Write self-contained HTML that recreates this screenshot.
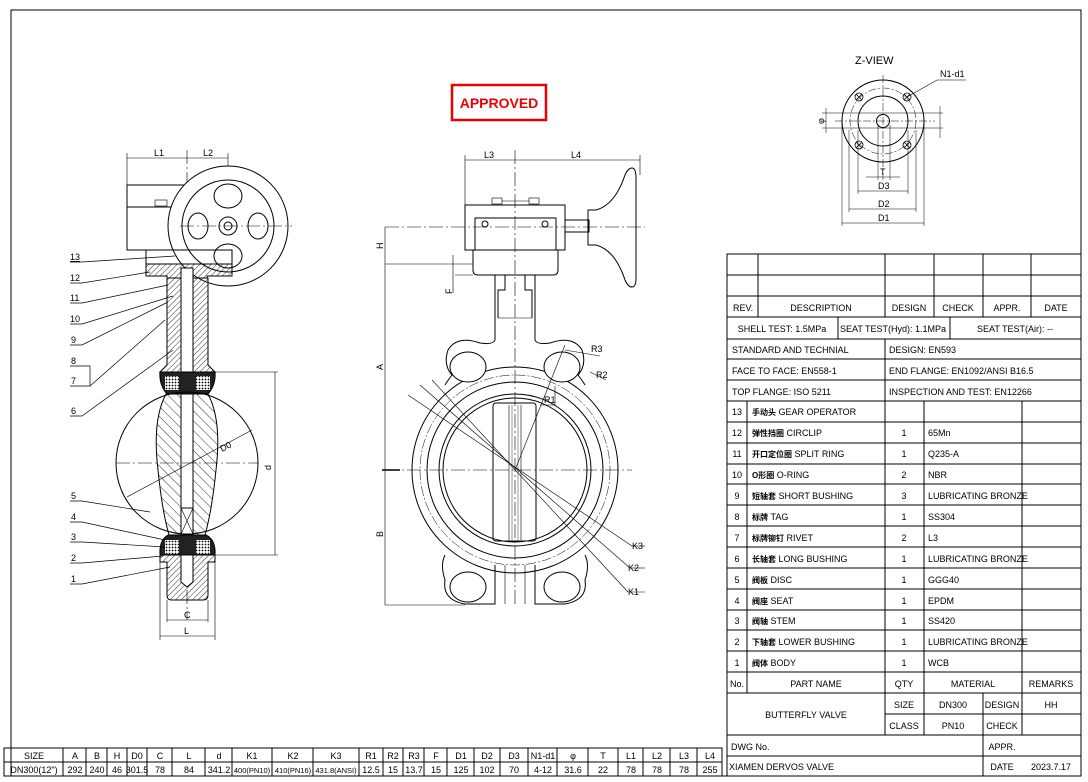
<!DOCTYPE html>
<html><head><meta charset="utf-8"><style>
body{margin:0;background:#fff}
svg{display:block}
text{font-family:"Liberation Sans","Noto Sans CJK SC",sans-serif;font-size:9px;fill:#000}
</style></head><body>
<svg width="1088" height="782" viewBox="0 0 1088 782" xmlns="http://www.w3.org/2000/svg">
<defs>
<pattern id="h" width="4" height="4" patternUnits="userSpaceOnUse" patternTransform="rotate(45)"><line x1="0" y1="0" x2="0" y2="4" stroke="#000" stroke-width="0.8"/></pattern>
<pattern id="h2" width="7" height="7" patternUnits="userSpaceOnUse" patternTransform="rotate(-45)"><line x1="0" y1="0" x2="0" y2="7" stroke="#000" stroke-width="0.8"/></pattern>
<pattern id="dots" width="3" height="3" patternUnits="userSpaceOnUse"><rect width="3" height="3" fill="#fff"/><circle cx="1.5" cy="1.5" r="0.9" fill="#000"/></pattern>
</defs>
<rect x="11" y="10" width="1070" height="766" fill="none" stroke="#000" stroke-width="1"/>

<rect x="452" y="85" width="94" height="35" fill="none" stroke="#e00" stroke-width="2.5"/>
<text x="499" y="108" text-anchor="middle" style="font-size:14px;font-weight:bold;fill:#e00">APPROVED</text>

<!-- LEFT VIEW -->
<g stroke="#000" fill="none" stroke-width="1">
<line x1="127" y1="158" x2="228" y2="158" stroke-width="0.6"/>
<line x1="127" y1="153" x2="127" y2="250" stroke-width="0.6"/>
<line x1="228" y1="153" x2="228" y2="226" stroke-width="0.6"/>
<line x1="187" y1="150" x2="187" y2="620" stroke-width="0.6" stroke-dasharray="14,3,2,3"/>
<rect x="127" y="185" width="70" height="65"/>
<line x1="127" y1="207" x2="180" y2="207"/>
<rect x="155" y="200" width="12" height="6" stroke-width="0.6"/>
<circle cx="228" cy="226" r="60" fill="#fff"/>
<circle cx="228" cy="226" r="46"/>
<circle cx="228" cy="226" r="9"/><circle cx="228" cy="226" r="4"/>
<ellipse cx="228" cy="196" rx="14" ry="12"/><ellipse cx="228" cy="256" rx="14" ry="12"/>
<ellipse cx="198" cy="226" rx="10" ry="13"/><ellipse cx="258" cy="226" rx="10" ry="13"/>
<line x1="180" y1="226" x2="292" y2="226" stroke-width="0.6" stroke-dasharray="14,3,2,3"/>
<rect x="146" y="250" width="86" height="14"/>
<path d="M146 264 H232 V276 H207 V278 H167 V276 H146 Z" fill="url(#h)"/>
<path d="M167 278 V365 L160 372 H215 L208 365 V278 Z" fill="url(#h)"/>
<rect x="181" y="268" width="12" height="240" fill="#fff"/>
<path d="M160 372 H215 Q216 385 208 394 H167 Q159 385 160 372Z" fill="#222"/>
<rect x="165" y="376" width="14" height="14" fill="url(#dots)" stroke="none"/>
<rect x="196" y="376" width="14" height="14" fill="url(#dots)" stroke="none"/>
<circle cx="187" cy="463" r="71"/>
<path d="M166 394 H208 Q222 420 216 470 Q212 510 205 535 H169 Q162 510 158 470 Q152 420 166 394Z" fill="url(#h2)"/>
<rect x="181" y="394" width="12" height="140" fill="#fff"/>
<rect x="181" y="508" width="12" height="26"/>
<line x1="181" y1="508" x2="193" y2="534" stroke-width="0.6"/><line x1="193" y1="508" x2="181" y2="534" stroke-width="0.6"/>
<path d="M160 555 H215 Q216 540 206 535 H168 Q159 540 160 555Z" fill="#222"/>
<rect x="165" y="540" width="14" height="14" fill="url(#dots)" stroke="none"/>
<rect x="196" y="540" width="14" height="14" fill="url(#dots)" stroke="none"/>
<path d="M160 555 H215 V562 H208 V595 Q208 600 203 600 H171 Q167 600 167 595 V562 H160Z" fill="url(#h)"/>
<path d="M181 555 V582 L187 587 L193 582 V555Z" fill="#fff"/>
<line x1="116" y1="463" x2="258" y2="463" stroke-width="0.6" stroke-dasharray="14,3,2,3"/>
<line x1="127" y1="497" x2="252" y2="430" stroke-width="0.6"/>
<line x1="215" y1="372" x2="278" y2="372" stroke-width="0.6"/>
<line x1="215" y1="555" x2="278" y2="555" stroke-width="0.6"/>
<line x1="275" y1="372" x2="275" y2="555" stroke-width="0.6"/>
<line x1="160" y1="555" x2="160" y2="640" stroke-width="0.6"/><line x1="215" y1="555" x2="215" y2="640" stroke-width="0.6"/>
<line x1="167" y1="600" x2="167" y2="622" stroke-width="0.6"/><line x1="208" y1="600" x2="208" y2="622" stroke-width="0.6"/>
<line x1="167" y1="620" x2="208" y2="620" stroke-width="0.6"/>
<line x1="160" y1="636" x2="215" y2="636" stroke-width="0.6"/>
<g stroke-width="0.7">
<path d="M70 262 H82 L175 256"/><path d="M70 283 H82 L150 272"/><path d="M70 303 H82 L168 285"/>
<path d="M70 324 H82 L173 296"/><path d="M70 345 H82 L168 302"/>
<path d="M70 366 H90 V386 H70"/><path d="M90 386 L165 320"/>
<path d="M70 416 H82 L173 350"/><path d="M70 501 H82 L150 512"/>
<path d="M70 522 H82 L165 540"/><path d="M70 542 H82 L165 547"/>
<path d="M70 563 H82 L163 556"/><path d="M70 584 H82 L170 567"/>
</g>
</g>
<g style="font-size:10px">
<text x="154" y="156">L1</text><text x="203" y="156">L2</text>
<text x="70" y="260" style="text-decoration:underline">13</text><text x="70" y="281">12</text><text x="70" y="301">11</text>
<text x="70" y="322">10</text><text x="71" y="343">9</text><text x="71" y="364">8</text><text x="71" y="384">7</text>
<text x="71" y="414">6</text><text x="71" y="499">5</text><text x="71" y="520">4</text><text x="71" y="540">3</text>
<text x="71" y="561">2</text><text x="71" y="582">1</text>
<text x="184" y="618">C</text><text x="184" y="634">L</text>
<text x="222" y="452" transform="rotate(-28 222 452)">D0</text>
<text x="271" y="470" transform="rotate(-90 271 470)">d</text>
</g>

<!-- MIDDLE VIEW -->
<g stroke="#000" fill="none" stroke-width="1">
<line x1="465" y1="160" x2="640" y2="160" stroke-width="0.6"/>
<line x1="465" y1="155" x2="465" y2="205" stroke-width="0.6"/>
<line x1="640" y1="155" x2="640" y2="175" stroke-width="0.6"/>
<line x1="515" y1="150" x2="515" y2="605" stroke-width="0.6" stroke-dasharray="14,3,2,3"/>
<rect x="465" y="205" width="100" height="45"/>
<rect x="475" y="218" width="81" height="32"/>
<rect x="492" y="198" width="10" height="6" stroke-width="0.6"/><rect x="529" y="198" width="10" height="6" stroke-width="0.6"/>
<line x1="502" y1="201" x2="529" y2="201" stroke-width="0.6"/>
<circle cx="485" cy="224" r="3"/><circle cx="545" cy="224" r="3"/>
<rect x="565" y="220" width="24" height="12"/>
<path d="M588 210 H596 Q615 205 625 175 Q628 168 632 168 Q636 168 636 178 V278 Q636 287 632 287 Q628 287 625 280 Q615 250 596 245 H588Z"/>
<line x1="385" y1="227" x2="645" y2="227" stroke-width="0.6" stroke-dasharray="14,3,2,3"/>
<path d="M473 250 H558 V270 Q558 275 553 275 H478 Q473 275 473 270Z"/>
<line x1="385" y1="264" x2="473" y2="264" stroke-width="0.6"/>
<line x1="455" y1="275" x2="473" y2="275" stroke-width="0.6"/>
<line x1="453" y1="255" x2="453" y2="293" stroke-width="0.6"/>
<line x1="385" y1="227" x2="385" y2="605" stroke-width="0.6"/>
<line x1="382" y1="470" x2="400" y2="470" stroke-width="1.5"/>
<line x1="385" y1="605" x2="465" y2="605" stroke-width="0.6"/>
<path d="M495 275 V340 Q493 345 480 343 Q457 335 448 350 Q443 365 452 375 Q448 380 445 385"/>
<path d="M535 275 V340 Q537 345 550 343 Q573 335 582 350 Q587 365 578 375 Q582 380 585 385"/>
<path d="M505 275 V290 H498 V318"/><path d="M525 275 V290 H532 V318"/>
<line x1="498" y1="318" x2="532" y2="318" stroke-width="0.6"/>
<circle cx="515" cy="470" r="103"/>
<circle cx="515" cy="470" r="88"/>
<circle cx="515" cy="470" r="76"/>
<circle cx="515" cy="470" r="72"/>
<circle cx="515" cy="470" r="95" stroke-width="0.5" stroke-dasharray="10,2,2,2"/>
<ellipse cx="468" cy="367" rx="18" ry="15" fill="#fff"/>
<ellipse cx="562" cy="367" rx="18" ry="15" fill="#fff"/>
<ellipse cx="468" cy="587" rx="18" ry="15" fill="#fff"/>
<ellipse cx="562" cy="587" rx="18" ry="15" fill="#fff"/>
<path d="M445 555 Q440 565 445 580 Q442 600 465 604 H495 V565"/>
<path d="M585 555 Q590 565 585 580 Q588 600 565 604 H535 V565"/>
<line x1="505" y1="565" x2="505" y2="604" stroke-width="0.6"/><line x1="525" y1="565" x2="525" y2="604" stroke-width="0.6"/>
<rect x="493" y="403" width="43" height="138" rx="3"/>
<line x1="509" y1="405" x2="509" y2="540" stroke-width="0.6"/><line x1="521" y1="405" x2="521" y2="540" stroke-width="0.6"/>
<line x1="512" y1="405" x2="512" y2="540" stroke-width="0.4"/><line x1="518" y1="405" x2="518" y2="540" stroke-width="0.4"/>
<line x1="385" y1="470" x2="632" y2="470" stroke-width="0.6" stroke-dasharray="14,3,2,3"/>
<g stroke-width="0.6">
<line x1="408" y1="395" x2="632" y2="546"/>
<line x1="420" y1="385" x2="630" y2="568"/>
<line x1="432" y1="380" x2="628" y2="592"/>
<line x1="632" y1="546" x2="645" y2="546"/><line x1="630" y1="568" x2="645" y2="568"/><line x1="628" y1="592" x2="645" y2="592"/>
<line x1="515" y1="470" x2="565" y2="345"/>
<path d="M555 386 V405 H540"/>
<line x1="565" y1="350" x2="600" y2="356"/><line x1="590" y1="372" x2="606" y2="380"/>
</g>
</g>
<g style="font-size:10px">
<text x="484" y="158">L3</text><text x="571" y="158">L4</text>
<text x="383" y="249" transform="rotate(-90 383 249)">H</text>
<text x="452" y="294" transform="rotate(-90 452 294)">F</text>
<text x="383" y="370" transform="rotate(-90 383 370)">A</text>
<text x="383" y="537" transform="rotate(-90 383 537)">B</text>
<text x="591" y="352">R3</text><text x="596" y="378">R2</text><text x="544" y="403">R1</text>
<text x="632" y="549">K3</text><text x="628" y="571">K2</text><text x="628" y="595">K1</text>
</g>

<!-- Z VIEW -->
<g stroke="#000" fill="none" stroke-width="1">
<circle cx="883" cy="121" r="41"/>
<circle cx="883" cy="121" r="33" stroke-width="0.5" stroke-dasharray="8,2,2,2"/>
<circle cx="883" cy="121" r="25"/>
<circle cx="883" cy="121" r="6.5"/>
<g stroke-width="0.8">
<circle cx="859" cy="97" r="4"/><circle cx="907" cy="97" r="4"/><circle cx="859" cy="145" r="4"/><circle cx="907" cy="145" r="4"/>
<path d="M856 94 L862 100 M862 94 L856 100 M904 94 L910 100 M910 94 L904 100 M856 142 L862 148 M862 142 L856 148 M904 142 L910 148 M910 142 L904 148"/>
</g>
<line x1="835" y1="121" x2="935" y2="121" stroke-width="0.5" stroke-dasharray="8,2,2,2"/>
<line x1="883" y1="75" x2="883" y2="180" stroke-width="0.5" stroke-dasharray="8,2,2,2"/>
<line x1="842" y1="121" x2="842" y2="226" stroke-width="0.5"/><line x1="924" y1="121" x2="924" y2="226" stroke-width="0.5"/>
<line x1="849" y1="130" x2="849" y2="212" stroke-width="0.5"/><line x1="916" y1="130" x2="916" y2="212" stroke-width="0.5"/>
<line x1="858" y1="130" x2="858" y2="194" stroke-width="0.5"/><line x1="908" y1="130" x2="908" y2="194" stroke-width="0.5"/>
<line x1="878" y1="125" x2="878" y2="180" stroke-width="0.5"/><line x1="890" y1="125" x2="890" y2="180" stroke-width="0.5"/>
<line x1="842" y1="223" x2="924" y2="223" stroke-width="0.5"/>
<line x1="849" y1="209" x2="916" y2="209" stroke-width="0.5"/>
<line x1="858" y1="191" x2="908" y2="191" stroke-width="0.5"/>
<line x1="866" y1="177" x2="900" y2="177" stroke-width="0.5"/>
<line x1="822" y1="113" x2="943" y2="113" stroke-width="0.5"/><line x1="822" y1="128" x2="943" y2="128" stroke-width="0.5"/>
<line x1="826" y1="108" x2="826" y2="133" stroke-width="0.5"/>
<line x1="940" y1="106" x2="940" y2="138" stroke-width="0.5"/>
<path d="M907 97 L937 80 H966" stroke-width="0.6"/>
</g>
<text x="855" y="64" style="font-size:11px">Z-VIEW</text>
<text x="940" y="77">N1-d1</text>
<text x="880" y="175">T</text><text x="878" y="189">D3</text><text x="878" y="207">D2</text><text x="878" y="221">D1</text>
<text x="824" y="124" transform="rotate(-90 824 124)">φ</text>

<!-- RIGHT TABLE -->
<g stroke="#000" stroke-width="1" fill="none">
<rect x="727" y="254" width="354" height="522"/>
<path d="M727 275 H1081 M727 296 H1081 M727 317 H1081 M727 339 H1081 M727 359 H1081 M727 380 H1081 M727 401 H1081 M727 422 H1081 M727 443 H1081 M727 464 H1081 M727 484 H1081 M727 505 H1081 M727 526 H1081 M727 547 H1081 M727 568 H1081 M727 589 H1081 M727 610 H1081 M727 630 H1081 M727 651 H1081 M727 672 H1081 M727 693 H1081 M885 714 H1081 M727 735 H1081 M727 756 H1081"/>
<path d="M758 254 V317 M885 254 V317 M934 254 V317 M983 254 V317 M1031 254 V317"/>
<path d="M838 317 V339 M950 317 V339"/>
<path d="M885 339 V401"/>
<path d="M747 401 V693 M885 401 V735 M924 401 V735 M1022 401 V735 M983 693 V776"/>
</g>
<g>
<text x="733" y="311">REV.</text><text x="821" y="311" text-anchor="middle">DESCRIPTION</text>
<text x="909" y="311" text-anchor="middle">DESIGN</text><text x="958" y="311" text-anchor="middle">CHECK</text>
<text x="1007" y="311" text-anchor="middle">APPR.</text><text x="1056" y="311" text-anchor="middle">DATE</text>
<text x="782" y="332" text-anchor="middle">SHELL TEST: 1.5MPa</text>
<text x="893" y="332" text-anchor="middle">SEAT TEST(Hyd): 1.1MPa</text>
<text x="1015" y="332" text-anchor="middle">SEAT TEST(Air):  --</text>
<text x="732" y="353">STANDARD AND TECHNIAL</text><text x="889" y="353">DESIGN: EN593</text>
<text x="732" y="374">FACE TO FACE: EN558-1</text><text x="889" y="374">END FLANGE: EN1092/ANSI B16.5</text>
<text x="732" y="395">TOP FLANGE: ISO 5211</text><text x="889" y="395">INSPECTION AND TEST: EN12266</text>
<g text-anchor="middle">
<text x="737" y="415">13</text><text x="737" y="436">12</text><text x="737" y="457">11</text><text x="737" y="478">10</text>
<text x="737" y="499">9</text><text x="737" y="520">8</text><text x="737" y="541">7</text><text x="737" y="562">6</text>
<text x="737" y="583">5</text><text x="737" y="604">4</text><text x="737" y="624">3</text><text x="737" y="645">2</text><text x="737" y="666">1</text>
<text x="904" y="436">1</text><text x="904" y="457">1</text><text x="904" y="478">2</text><text x="904" y="499">3</text>
<text x="904" y="520">1</text><text x="904" y="541">2</text><text x="904" y="562">1</text><text x="904" y="583">1</text>
<text x="904" y="604">1</text><text x="904" y="624">1</text><text x="904" y="645">1</text><text x="904" y="666">1</text>
<text x="737" y="687">No.</text><text x="816" y="687">PART NAME</text><text x="904" y="687">QTY</text>
<text x="973" y="687">MATERIAL</text><text x="1051" y="687">REMARKS</text>
<text x="806" y="718">BUTTERFLY VALVE</text>
<text x="904" y="708">SIZE</text><text x="953" y="708">DN300</text><text x="1002" y="708">DESIGN</text><text x="1051" y="708">HH</text>
<text x="904" y="729">CLASS</text><text x="953" y="729">PN10</text><text x="1002" y="729">CHECK</text>
<text x="1002" y="750">APPR.</text><text x="1002" y="770">DATE</text><text x="1051" y="770">2023.7.17</text>
</g>
<text x="752" y="415"><tspan style="font-size:8px;font-weight:bold">手动头</tspan> GEAR OPERATOR</text>
<text x="752" y="436"><tspan style="font-size:8px;font-weight:bold">弹性挡圈</tspan> CIRCLIP</text>
<text x="752" y="457"><tspan style="font-size:8px;font-weight:bold">开口定位圈</tspan> SPLIT RING</text>
<text x="752" y="478"><tspan style="font-size:8px;font-weight:bold">O形圈</tspan> O-RING</text>
<text x="752" y="499"><tspan style="font-size:8px;font-weight:bold">短轴套</tspan> SHORT BUSHING</text>
<text x="752" y="520"><tspan style="font-size:8px;font-weight:bold">标牌</tspan> TAG</text>
<text x="752" y="541"><tspan style="font-size:8px;font-weight:bold">标牌铆钉</tspan> RIVET</text>
<text x="752" y="562"><tspan style="font-size:8px;font-weight:bold">长轴套</tspan> LONG BUSHING</text>
<text x="752" y="583"><tspan style="font-size:8px;font-weight:bold">阀板</tspan> DISC</text>
<text x="752" y="604"><tspan style="font-size:8px;font-weight:bold">阀座</tspan> SEAT</text>
<text x="752" y="624"><tspan style="font-size:8px;font-weight:bold">阀轴</tspan> STEM</text>
<text x="752" y="645"><tspan style="font-size:8px;font-weight:bold">下轴套</tspan> LOWER BUSHING</text>
<text x="752" y="666"><tspan style="font-size:8px;font-weight:bold">阀体</tspan>  BODY</text>
<g style="font-size:8px">
<text x="928" y="436">65Mn</text><text x="928" y="457">Q235-A</text><text x="928" y="478">NBR</text>
<text x="928" y="499">LUBRICATING BRONZE</text><text x="928" y="520">SS304</text><text x="928" y="541">L3</text>
<text x="928" y="562">LUBRICATING BRONZE</text><text x="928" y="583">GGG40</text><text x="928" y="604">EPDM</text>
<text x="928" y="624">SS420</text><text x="928" y="645">LUBRICATING BRONZE</text><text x="928" y="666">WCB</text>
</g>
<text x="731" y="750">DWG No.</text><text x="729" y="770">XIAMEN DERVOS VALVE</text>
</g>

<!-- BOTTOM TABLE -->
<g stroke="#000" stroke-width="1" fill="none">
<rect x="4" y="748" width="718" height="28"/>
<line x1="4" y1="762" x2="722" y2="762"/>
<path d="M63 748V776 M86 748V776 M107 748V776 M127 748V776 M147 748V776 M172 748V776 M205 748V776 M232 748V776 M272 748V776 M313 748V776 M359 748V776 M383 748V776 M403 748V776 M424 748V776 M447 748V776 M474 748V776 M500 748V776 M528 748V776 M557 748V776 M588 748V776 M618 748V776 M643 748V776 M670 748V776 M697 748V776"/>
</g>
<g text-anchor="middle" style="font-size:8px">
<text x="34" y="759">SIZE</text><text x="75" y="759">A</text><text x="97" y="759">B</text><text x="117" y="759">H</text><text x="137" y="759">D0</text><text x="160" y="759">C</text><text x="189" y="759">L</text><text x="219" y="759">d</text><text x="252" y="759">K1</text><text x="293" y="759">K2</text><text x="336" y="759">K3</text><text x="371" y="759">R1</text><text x="393" y="759">R2</text><text x="414" y="759">R3</text><text x="436" y="759">F</text><text x="461" y="759">D1</text><text x="487" y="759">D2</text><text x="514" y="759">D3</text><text x="543" y="759">N1-d1</text><text x="573" y="759">φ</text><text x="603" y="759">T</text><text x="631" y="759">L1</text><text x="657" y="759">L2</text><text x="684" y="759">L3</text><text x="710" y="759">L4</text>
<text x="34" y="773">DN300(12")</text><text x="75" y="773">292</text><text x="97" y="773">240</text><text x="117" y="773">46</text><text x="137" y="773">301.5</text><text x="160" y="773">78</text><text x="189" y="773">84</text><text x="219" y="773">341.2</text><text x="252" y="773" style="font-size:7.5px">400(PN10)</text><text x="293" y="773" style="font-size:7.5px">410(PN16)</text><text x="336" y="773" style="font-size:7.5px">431.8(ANSI)</text><text x="371" y="773">12.5</text><text x="393" y="773">15</text><text x="414" y="773">13.7</text><text x="436" y="773">15</text><text x="461" y="773">125</text><text x="487" y="773">102</text><text x="514" y="773">70</text><text x="543" y="773">4-12</text><text x="573" y="773">31.6</text><text x="603" y="773">22</text><text x="631" y="773">78</text><text x="657" y="773">78</text><text x="684" y="773">78</text><text x="710" y="773">255</text>
</g>
</svg>
</body></html>
